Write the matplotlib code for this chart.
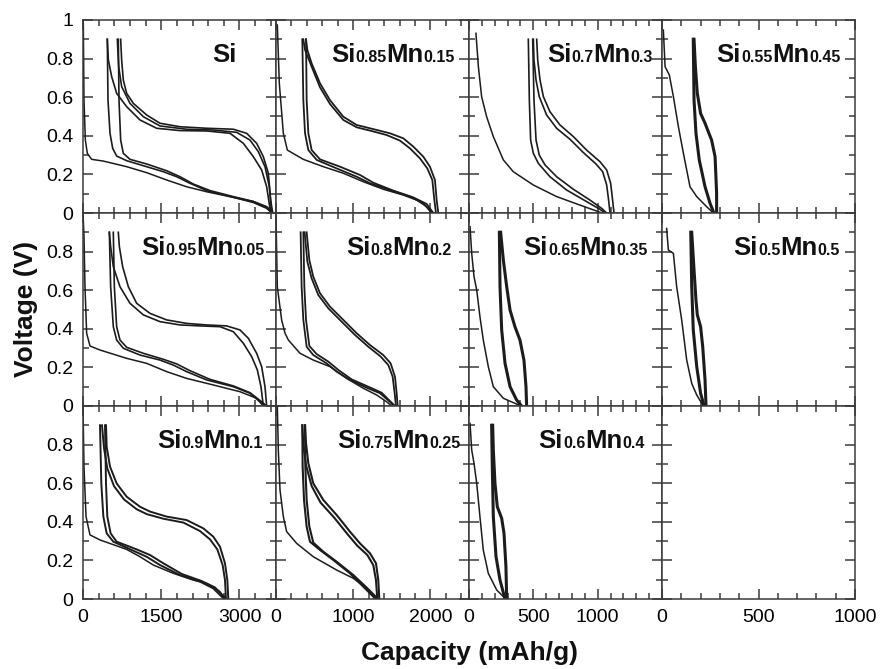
import re
import matplotlib
matplotlib.use("Agg")
import matplotlib.pyplot as plt
from matplotlib.ticker import MultipleLocator, FixedLocator

plt.rcParams['font.family'] = ['Liberation Sans', 'DejaVu Sans']

# ---- data: (capacity mAh/g, voltage V) ----
# panel order: row by row, left to right
names = ["Si", "Si0.85Mn0.15", "Si0.7Mn0.3", "Si0.55Mn0.45",
         "Si0.95Mn0.05", "Si0.8Mn0.2", "Si0.65Mn0.35", "Si0.5Mn0.5",
         "Si0.9Mn0.1", "Si0.75Mn0.25", "Si0.6Mn0.4"]

col_xmax = [3700, 2500, 1500, 1000]
col_ticks = [[0, 1500, 3000], [0, 1000, 2000], [0, 500, 1000], [0, 500, 1000]]
col_minor = [300, 200, 100, 100]

# Si
si_d1 = [(0, 1.0), (6, 0.98), (19, 0.585), (45, 0.378), (83, 0.309), (166, 0.278), (390, 0.269),
         (837, 0.24), (1220, 0.209), (1604, 0.171), (1987, 0.136), (2371, 0.11), (2882, 0.081),
         (3265, 0.054), (3521, 0.024), (3617, 0)]
si_dis = [
    [(466, 0.9), (479, 0.585), (518, 0.413), (569, 0.335), (645, 0.295), (837, 0.271), (1157, 0.245),
     (1540, 0.214), (1796, 0.188), (2051, 0.154), (2371, 0.116), (2882, 0.081), (3265, 0.059),
     (3521, 0.029), (3636, 0)],
    [(677, 0.9), (690, 0.585), (722, 0.378), (773, 0.309), (901, 0.278), (1220, 0.254), (1604, 0.219),
     (1860, 0.188), (2115, 0.15), (2435, 0.116), (2882, 0.085), (3265, 0.06), (3521, 0.033), (3649, 0)],
]
si_chg = [
    [(3636, 0), (3598, 0.067), (3553, 0.206), (3457, 0.292), (3329, 0.361), (3137, 0.413), (2882, 0.434),
     (2371, 0.439), (1859, 0.447), (1476, 0.465), (1220, 0.508), (965, 0.568), (837, 0.62), (773, 0.689),
     (741, 0.793), (722, 0.9)],
    [(3617, 0), (3572, 0.136), (3489, 0.24), (3361, 0.318), (3201, 0.378), (2946, 0.418), (2498, 0.43),
     (1987, 0.434), (1476, 0.451), (1157, 0.499), (901, 0.568), (741, 0.655), (684, 0.758), (658, 0.9)],
    [(3598, 0), (3521, 0.136), (3425, 0.223), (3265, 0.292), (3074, 0.361), (2818, 0.413), (2371, 0.425),
     (1859, 0.427), (1412, 0.439), (1093, 0.482), (837, 0.551), (645, 0.62), (550, 0.706), (486, 0.793),
     (466, 0.9)],
]

# Si0.85Mn0.15
si85_d1 = [(0, 0.98), (17, 0.974), (43, 0.672), (95, 0.413), (147, 0.326), (354, 0.278), (613, 0.24),
           (872, 0.206), (1131, 0.162), (1390, 0.123), (1649, 0.093), (1822, 0.067), (1951, 0.033), (2016, 0)]
si85_dis = [
    [(341, 0.9), (354, 0.585), (376, 0.413), (419, 0.326), (527, 0.275), (786, 0.231), (1045, 0.188),
     (1217, 0.154), (1476, 0.119), (1735, 0.085), (1908, 0.05), (1994, 0.012), (2038, 0)],
    [(389, 0.9), (397, 0.585), (419, 0.413), (462, 0.326), (570, 0.278), (829, 0.24), (1088, 0.197),
     (1260, 0.157), (1520, 0.116), (1778, 0.081), (1951, 0.047), (2038, 0)],
]
si85_chg = [
    [(2102, 0), (2081, 0.067), (2059, 0.171), (1994, 0.24), (1908, 0.292), (1779, 0.344), (1649, 0.387),
     (1476, 0.413), (1217, 0.439), (1045, 0.456), (872, 0.499), (699, 0.585), (570, 0.672), (462, 0.775),
     (406, 0.845), (389, 0.9)],
    [(2072, 0), (2051, 0.067), (2025, 0.171), (1960, 0.231), (1865, 0.283), (1735, 0.335), (1606, 0.375),
     (1433, 0.404), (1217, 0.427), (1045, 0.444), (872, 0.482), (699, 0.565), (570, 0.651), (462, 0.758),
     (376, 0.845), (354, 0.9)],
]

# Si0.7Mn0.3
si70_d1 = [(54, 0.931), (73, 0.758), (98, 0.603), (137, 0.499), (189, 0.396), (267, 0.275), (344, 0.214),
           (500, 0.145), (681, 0.085), (862, 0.041), (1005, 0.007), (1031, 0)]
si70_dis = [
    [(461, 0.9), (469, 0.585), (479, 0.378), (500, 0.309), (539, 0.257), (629, 0.188), (759, 0.119),
     (914, 0.059), (1018, 0.019), (1057, 0)],
    [(495, 0.9), (505, 0.585), (521, 0.378), (546, 0.3), (591, 0.249), (681, 0.188), (811, 0.123),
     (940, 0.067), (1031, 0.024), (1070, 0)],
]
si70_chg = [
    [(1127, 0), (1116, 0.067), (1101, 0.154), (1070, 0.223), (1018, 0.266), (914, 0.326), (811, 0.396),
     (707, 0.456), (629, 0.525), (578, 0.603), (552, 0.689), (534, 0.793), (526, 0.9)],
    [(1096, 0), (1085, 0.067), (1070, 0.145), (1039, 0.214), (987, 0.254), (889, 0.313), (785, 0.382),
     (681, 0.439), (603, 0.508), (546, 0.603), (521, 0.689), (505, 0.793), (500, 0.9)],
]

# Si0.55Mn0.45
si55_d1 = [(7, 0.948), (16, 0.758), (38, 0.715), (59, 0.603), (85, 0.447), (111, 0.309), (145, 0.136),
           (180, 0.085), (231, 0.033), (266, 0)]
si55_dis = [
    [(162, 0.9), (166, 0.585), (176, 0.413), (193, 0.275), (223, 0.136), (249, 0.05), (269, 0)],
]
si55_chg = [
    [(283, 0), (283, 0.102), (275, 0.292), (257, 0.378), (240, 0.421), (223, 0.465), (200, 0.516),
     (183, 0.62), (173, 0.758), (166, 0.9)],
]

# Si0.95Mn0.05
si95_d1 = [(0, 1.0), (19, 0.877), (38, 0.618), (70, 0.377), (134, 0.311), (326, 0.29), (837, 0.247),
           (1220, 0.221), (1604, 0.178), (1987, 0.143), (2498, 0.109), (3010, 0.074), (3329, 0.04), (3457, 0)]
si95_dis = [
    [(505, 0.9), (530, 0.618), (581, 0.411), (645, 0.342), (773, 0.299), (1093, 0.264), (1476, 0.238),
     (1732, 0.212), (1987, 0.178), (2371, 0.135), (2882, 0.1), (3201, 0.066), (3393, 0.022), (3489, 0)],
    [(581, 0.9), (601, 0.618), (645, 0.411), (709, 0.342), (837, 0.304), (1157, 0.273), (1540, 0.242),
     (1796, 0.218), (2051, 0.183), (2435, 0.138), (2882, 0.104), (3201, 0.069), (3425, 0.022), (3521, 0)],
]
si95_chg = [
    [(3521, 0), (3489, 0.1), (3425, 0.204), (3329, 0.273), (3169, 0.351), (3010, 0.394), (2754, 0.415),
     (2371, 0.42), (1987, 0.428), (1604, 0.446), (1284, 0.48), (1029, 0.532), (869, 0.618), (760, 0.722),
     (697, 0.826), (677, 0.9)],
    [(3457, 0), (3412, 0.1), (3342, 0.187), (3233, 0.256), (3074, 0.325), (2882, 0.385), (2626, 0.411),
     (2243, 0.415), (1860, 0.42), (1476, 0.437), (1157, 0.472), (901, 0.532), (709, 0.618), (581, 0.722),
     (530, 0.826), (505, 0.9)],
]

# Si0.8Mn0.2
si80_d1 = [(0, 0.98), (17, 0.618), (73, 0.446), (117, 0.377), (160, 0.342), (311, 0.273), (483, 0.238),
           (699, 0.204), (915, 0.143), (1131, 0.092), (1304, 0.057), (1433, 0.022), (1498, 0)]
si80_dis = [
    [(319, 0.9), (332, 0.618), (354, 0.446), (397, 0.307), (483, 0.264), (656, 0.221), (786, 0.178),
     (958, 0.135), (1174, 0.095), (1347, 0.066), (1476, 0.022), (1528, 0)],
    [(354, 0.9), (367, 0.618), (389, 0.446), (432, 0.311), (527, 0.269), (678, 0.23), (807, 0.187),
     (980, 0.138), (1196, 0.1), (1368, 0.069), (1485, 0.022), (1541, 0)],
]
si80_chg = [
    [(1576, 0), (1563, 0.066), (1541, 0.152), (1485, 0.221), (1390, 0.264), (1217, 0.316), (1045, 0.377),
     (872, 0.446), (699, 0.515), (570, 0.584), (483, 0.67), (432, 0.756), (397, 0.9)],
    [(1554, 0), (1537, 0.066), (1511, 0.152), (1455, 0.212), (1356, 0.256), (1196, 0.307), (1023, 0.368),
     (850, 0.437), (678, 0.506), (548, 0.575), (462, 0.661), (406, 0.748), (371, 0.9)],
]

# Si0.65Mn0.35
si65_d1 = [(8, 0.929), (21, 0.791), (39, 0.67), (60, 0.601), (85, 0.463), (111, 0.342), (150, 0.204),
           (189, 0.1), (267, 0.04), (370, 0.01), (409, 0)]
si65_dis = [
    [(236, 0.9), (241, 0.618), (254, 0.394), (280, 0.221), (319, 0.1), (370, 0.031), (409, 0)],
]
si65_chg = [
    [(448, 0), (443, 0.1), (427, 0.238), (396, 0.342), (357, 0.411), (319, 0.497), (293, 0.618),
     (267, 0.756), (246, 0.9)],
]

# Si0.5Mn0.5
si50_d1 = [(24, 0.92), (33, 0.808), (59, 0.791), (76, 0.618), (102, 0.446), (128, 0.238), (154, 0.117),
           (180, 0.057), (206, 0.014), (214, 0)]
si50_dis = [
    [(149, 0.9), (154, 0.618), (162, 0.394), (180, 0.204), (200, 0.066), (218, 0)],
]
si50_chg = [
    [(228, 0), (223, 0.135), (211, 0.307), (200, 0.411), (183, 0.472), (176, 0.549), (166, 0.705),
     (154, 0.9)],
]

# Si0.9Mn0.1
si90_d1 = [(0, 0.997), (19, 0.686), (58, 0.427), (134, 0.332), (326, 0.306), (837, 0.257), (1093, 0.219),
           (1348, 0.176), (1732, 0.133), (2115, 0.098), (2371, 0.081), (2626, 0.038), (2703, 0)]
si90_dis = [
    [(326, 0.9), (351, 0.599), (390, 0.427), (454, 0.34), (581, 0.297), (965, 0.25), (1220, 0.219),
     (1476, 0.176), (1860, 0.124), (2243, 0.09), (2498, 0.055), (2658, 0.012), (2722, 0)],
    [(422, 0.9), (441, 0.599), (466, 0.427), (530, 0.34), (645, 0.297), (1029, 0.257), (1284, 0.228),
     (1540, 0.185), (1892, 0.13), (2275, 0.093), (2530, 0.06), (2690, 0.016), (2754, 0)],
]
si90_chg = [
    [(2786, 0), (2767, 0.098), (2722, 0.185), (2626, 0.271), (2498, 0.323), (2307, 0.366), (1987, 0.409),
     (1604, 0.427), (1284, 0.453), (1093, 0.478), (837, 0.53), (645, 0.599), (518, 0.686), (454, 0.789),
     (441, 0.9)],
    [(2741, 0), (2722, 0.098), (2677, 0.176), (2575, 0.257), (2435, 0.309), (2243, 0.352), (1924, 0.396),
     (1540, 0.416), (1220, 0.44), (1029, 0.465), (786, 0.516), (594, 0.585), (466, 0.677), (403, 0.781),
     (364, 0.9)],
]

# Si0.75Mn0.25
si75_d1 = [(17, 0.997), (30, 0.772), (52, 0.565), (95, 0.427), (138, 0.349), (268, 0.288), (483, 0.219),
           (786, 0.15), (1002, 0.107), (1174, 0.055), (1260, 0.012), (1282, 0)]
si75_dis = [
    [(341, 0.9), (345, 0.686), (363, 0.513), (397, 0.375), (440, 0.297), (570, 0.254), (743, 0.202),
     (958, 0.133), (1131, 0.064), (1239, 0.021), (1295, 0)],
    [(376, 0.9), (380, 0.686), (397, 0.513), (432, 0.375), (483, 0.292), (613, 0.245), (786, 0.193),
     (1002, 0.124), (1174, 0.059), (1282, 0.016), (1325, 0)],
]
si75_chg = [
    [(1338, 0), (1325, 0.098), (1295, 0.185), (1217, 0.237), (1088, 0.288), (958, 0.349), (786, 0.435),
     (613, 0.513), (483, 0.599), (419, 0.703), (389, 0.807), (376, 0.9)],
    [(1312, 0), (1295, 0.098), (1260, 0.176), (1183, 0.228), (1053, 0.276), (924, 0.337), (751, 0.423),
     (578, 0.499), (462, 0.585), (389, 0.694), (354, 0.798), (341, 0.9)],
]

# Si0.6Mn0.4
si60_d1 = [(8, 0.91), (21, 0.772), (39, 0.703), (60, 0.599), (85, 0.427), (111, 0.254), (150, 0.133),
           (215, 0.047), (267, 0.012), (287, 0)]
si60_dis = [
    [(176, 0.9), (181, 0.686), (189, 0.427), (210, 0.219), (241, 0.098), (280, 0)],
]
si60_chg = [
    [(293, 0), (287, 0.168), (272, 0.34), (254, 0.418), (220, 0.478), (202, 0.599), (189, 0.772),
     (184, 0.9)],
]

first_curves = [si_d1, si85_d1, si70_d1, si55_d1, si95_d1, si80_d1, si65_d1, si50_d1,
                si90_d1, si75_d1, si60_d1]
dis_curves = [si_dis, si85_dis, si70_dis, si55_dis, si95_dis, si80_dis, si65_dis, si50_dis,
              si90_dis, si75_dis, si60_dis]
chg_curves = [si_chg, si85_chg, si70_chg, si55_chg, si95_chg, si80_chg, si65_chg, si50_chg,
              si90_chg, si75_chg, si60_chg]

# ---- layout ----
label_gap = [39, 14, 9, 14, 11, 17, 14, 15, 13, 8, 17]   # px from right edge
cycle_lw = [1.2, 1.3, 1.2, 2.2, 1.2, 1.3, 2.2, 2.2, 1.4, 1.5, 2.2]

W, H = 880, 669
fig = plt.figure(figsize=(W / 100, H / 100), dpi=100)
x0, y_top, step = 83, 20, 193
line_c = '#1c1c1c'
spine_c = '#3a3a3a'

axes = []
for r in range(3):
    for c in range(4):
        ax = fig.add_axes([(x0 + c * step) / W, (H - (y_top + (r + 1) * step)) / H, step / W, step / H])
        ax.set_xlim(0, col_xmax[c])
        ax.set_ylim(0, 1)
        ax.xaxis.set_major_locator(FixedLocator(col_ticks[c]))
        ax.xaxis.set_minor_locator(MultipleLocator(col_minor[c]))
        ax.yaxis.set_major_locator(FixedLocator([0, 0.2, 0.4, 0.6, 0.8, 1.0]))
        ax.yaxis.set_minor_locator(MultipleLocator(0.1))
        ax.tick_params(which='both', direction='in', top=True, right=True, color=spine_c, width=1.1,
                       labelsize=14, pad=7, labelleft=(c == 0), labelbottom=(r == 2))
        ax.tick_params(which='major', length=7)
        ax.tick_params(which='minor', length=4)
        for s in ax.spines.values():
            s.set_color(spine_c)
            s.set_linewidth(1.1)
        if c == 0:
            if r == 0:
                ax.set_yticklabels(['0', '0.2', '0.4', '0.6', '0.8', '1'])
            else:
                ax.set_yticklabels(['0', '0.2', '0.4', '0.6', '0.8', ''])
        axes.append(ax)

renderer = fig.canvas.get_renderer()


def put_label(ax, name, gap):
    parts = re.findall(r'[A-Za-z]+|[\d.]+', name)
    sizes = [18.5 if p[0].isalpha() else 11.5 for p in parts]
    widths = []
    for p, fs in zip(parts, sizes):
        t = fig.text(0, 0, p, fontsize=fs, fontweight='bold')
        widths.append(t.get_window_extent(renderer).width)
        t.remove()
    x = -gap - sum(widths)
    for p, fs, w in zip(parts, sizes, widths):
        ax.annotate(p, xy=(1, 1), xycoords='axes fraction', xytext=(x, -42),
                    textcoords='offset pixels', fontsize=fs, fontweight='bold',
                    ha='left', va='baseline', color='#111111')
        x += w


for i, name in enumerate(names):
    ax = axes[i]
    cap, volt = zip(*first_curves[i])
    ax.plot(cap, volt, color=line_c, lw=1.1)
    for cur in dis_curves[i] + chg_curves[i]:
        cap, volt = zip(*cur)
        ax.plot(cap, volt, color=line_c, lw=cycle_lw[i], solid_joinstyle='round')
    put_label(ax, name, label_gap[i])

fig.text(26 / W, 1 - 309 / H, 'Voltage (V)', rotation=90, ha='center', va='center',
         fontsize=19, fontweight='bold', color='#111111')
fig.text(469 / W, 1 - 653 / H, 'Capacity (mAh/g)', ha='center', va='center',
         fontsize=19, fontweight='bold', color='#111111')

fig.savefig('out.png', dpi=100)
